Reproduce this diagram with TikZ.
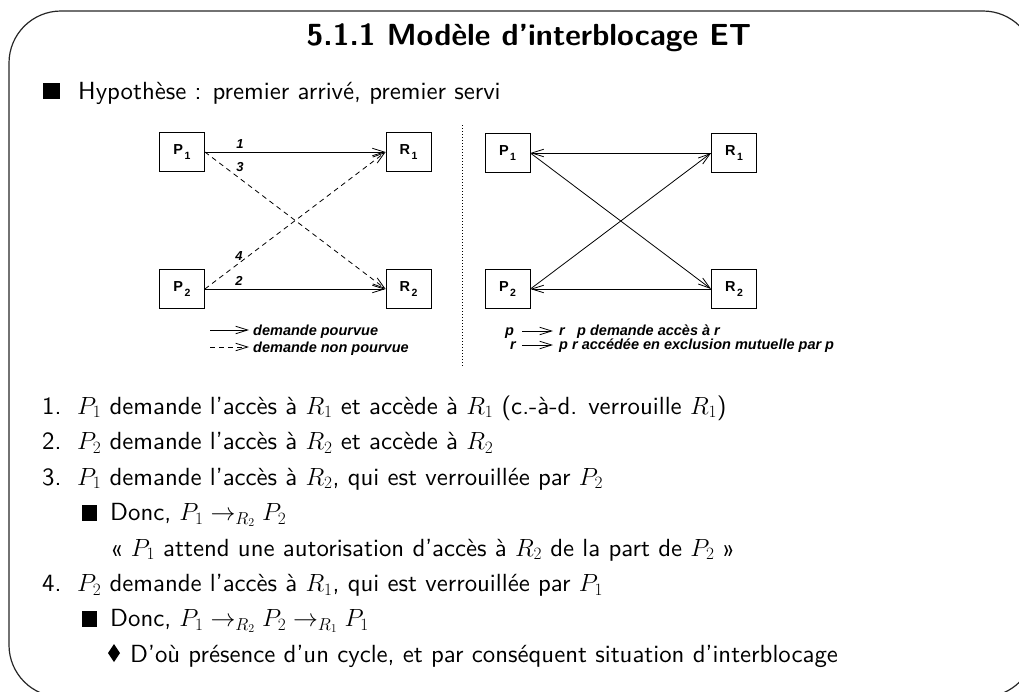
\documentclass[tikz,border=0pt]{standalone}
\usepackage{fontspec}
\usetikzlibrary{arrows.meta}
\newfontfamily\figfont{Liberation Sans}
\newfontfamily\bodysf{lmsans10-regular.otf}[BoldFont=lmsans10-bold.otf]
\tikzset{
  frameline/.style={draw=black!85, line width=1.2pt, rounded corners=52pt},
  bodytext/.style={anchor=base west, inner sep=0pt, font=\bodysf\fontsize{24.8}{28}\selectfont},
  sqbullet/.style={fill=black, inner sep=0pt, minimum size=15.5pt},
  boxnode/.style={draw, line width=0.8pt, minimum width=45pt, minimum height=39pt, inner sep=0pt,
    font=\figfont\bfseries\fontsize{14.5}{14}\selectfont},
  numlabel/.style={inner sep=0pt, font=\figfont\bfseries\itshape\fontsize{13}{13}\selectfont},
  legtext/.style={anchor=base west, inner sep=0pt, font=\figfont\bfseries\itshape\fontsize{14.5}{15}\selectfont},
  tipline/.style={line width=0.8pt, -{Straight Barb[length=12pt,width=7.5pt,line width=0.8pt]}},
  dashline/.style={tipline, dash pattern=on 5pt off 4pt},
}
\newcommand{\boxlab}[2]{#1\kern1.5pt\raisebox{-4.5pt}{\fontsize{10.5}{10}\selectfont #2}}
\begin{document}
\begin{tikzpicture}[x=1pt,y=-1pt]
\useasboundingbox (0,0) rectangle (1019,691);
% slide frame, partly beyond the page on the right and bottom
\begin{scope}
  \clip (0,0) rectangle (1019,691);
  \draw[frameline] (9,11) rectangle (1035,697);
\end{scope}

% title
\node[inner sep=0pt, font=\bodysf\bfseries\fontsize{30.5}{32}\selectfont] (title) at (529,38) {5.1.1 Modèle d’interblocage ET};

% hypothesis line
\node[sqbullet, minimum size=16.5pt] (b0) at (51.5,91) {};
\node[bodytext] (hyp) at (78,99) {Hypothèse : premier arrivé, premier servi};

% ---------- left graph ----------
\node[boxnode] (P1) at (182,152) {\boxlab{P}{1}};
\node[boxnode] (R1) at (408.5,152) {\boxlab{R}{1}};
\node[boxnode] (P2) at (182,289) {\boxlab{P}{2}};
\node[boxnode] (R2) at (408.5,289) {\boxlab{R}{2}};
\draw[tipline] (P1.east) -- (R1.west);
\draw[tipline] (P2.east) -- (R2.west);
\draw[dashline] (P1.east) -- (R2.west);
\draw[dashline] (P2.east) -- (R1.west);
\node[numlabel] (n1) at (240,144.5) {1};
\node[numlabel] (n3) at (240,167) {3};
\node[numlabel] (n4) at (239,256) {4};
\node[numlabel] (n2) at (239,281) {2};

% left legend
\coordinate (la1) at (210,330);
\coordinate (lb1) at (249,330);
\coordinate (la2) at (210,347);
\coordinate (lb2) at (249,347);
\draw[tipline] (la1) -- (lb1);
\draw[dashline] (la2) -- (lb2);
\node[legtext] (lt1) at (253,335) {demande pourvue};
\node[legtext] (lt2) at (253,352) {demande non pourvue};

% separator
\coordinate (sepT) at (462,125);
\coordinate (sepB) at (462,366);
\draw[line width=0.8pt, dash pattern=on 0.8pt off 2.2pt] (sepT) -- (sepB);

% ---------- right graph ----------
\node[boxnode] (Q1) at (507.5,153) {\boxlab{P}{1}};
\node[boxnode] (S1) at (734,153) {\boxlab{R}{1}};
\node[boxnode] (Q2) at (507.5,289) {\boxlab{P}{2}};
\node[boxnode] (S2) at (734,289) {\boxlab{R}{2}};
\draw[tipline] (S1.west) -- (Q1.east);
\draw[tipline] (S2.west) -- (Q2.east);
\draw[tipline] (Q1.east) -- (S2.west);
\draw[tipline] (Q2.east) -- (S1.west);

% right legend
\node[legtext] (rp1) at (505,335) {p};
\coordinate (ra1) at (522,331);
\coordinate (rb1) at (553,331);
\draw[tipline] (ra1) -- (rb1);
\node[legtext] (rr1) at (559,335) {r};
\node[legtext] (rt1) at (577,335) {p demande accès à r};
\node[legtext] (rr2) at (510,349) {r};
\coordinate (ra2) at (522,345);
\coordinate (rb2) at (553,345);
\draw[tipline] (ra2) -- (rb2);
\node[legtext] (rp2) at (559,349) {p};
\node[legtext] (rt2) at (572,349) {r accédée en exclusion mutuelle par p};

% ---------- numbered list ----------
\node[bodytext] (i1) at (42,414) {1.};
\node[bodytext] (t1) at (77,414) {$P_1$ demande l’accès à $R_1$ et accède à $R_1$ (c.-à-d. verrouille $R_1$)};
\node[bodytext] (i2) at (42,449.5) {2.};
\node[bodytext] (t2) at (77,449.5) {$P_2$ demande l’accès à $R_2$ et accède à $R_2$};
\node[bodytext] (i3) at (42,485) {3.};
\node[bodytext] (t3) at (77,485) {$P_1$ demande l’accès à $R_2$, qui est verrouillée par $P_2$};
\node[sqbullet] (b1) at (89.5,513) {};
\node[bodytext] (t31) at (110,520.5) {Donc, $P_1 \rightarrow_{R_2} P_2$};
\node[bodytext] (t32) at (110,556) {« $P_1$ attend une autorisation d’accès à $R_2$ de la part de $P_2$ »};
\node[bodytext] (i4) at (42,591.5) {4.};
\node[bodytext] (t4) at (77,591.5) {$P_2$ demande l’accès à $R_1$, qui est verrouillée par $P_1$};
\node[sqbullet] (b2) at (89.5,619) {};
\node[bodytext] (t41) at (110,626.5) {Donc, $P_1 \rightarrow_{R_2} P_2 \rightarrow_{R_1} P_1$};
\fill (108,653) -- (114,644) -- (120,653) -- (114,662) -- cycle;
\node[bodytext] (t42) at (130,662) {D’où présence d’un cycle, et par conséquent situation d’interblocage};
\end{tikzpicture}
\end{document}
